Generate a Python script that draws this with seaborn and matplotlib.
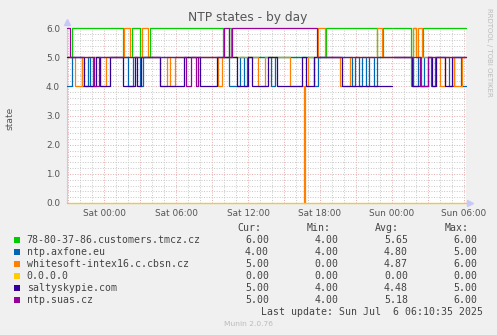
import numpy as np
import pandas as pd
import matplotlib
matplotlib.use("Agg")
import matplotlib.pyplot as plt
from matplotlib.patches import Rectangle
from matplotlib.ticker import FixedLocator, MultipleLocator, FixedFormatter
import seaborn as sns

# ---------------- data (hours relative to Sat 00:00) ----------------
T_START, T_END = -3.08, 30.17
GAP = (24.0, 24.08)

series_names = ["78-80-37-86.customers.tmcz.cz", "ntp.axfone.eu",
                "whitesoft-intex16.c.cbsn.cz", "0.0.0.0",
                "saltyskypie.com", "ntp.suas.cz"]
series_colors = ["#00CC00", "#0066B3", "#FF8000", "#FFCC00", "#330099", "#990099"]

green_t = [-3.08, -2.67, 1.58, 2.33, 3.0, 3.83, 9.92, 10.46, 10.58, 18.5,
           22.75, 23.25, 25.58, 25.75, 26.0, 26.58]
green_v = [5, 6, 5, 6, 5, 6, 5, 6, 5, 6, 5, 6, 4, 6, 5, 6]

blue_t = [-3.08, -2.67, -1.83, -1.33, -1.17, -0.92, 2.0, 2.42, 3.0, 3.25,
          10.42, 11.33, 11.67, 11.92, 13.92, 14.25, 17.5, 17.83, 20.67, 20.92,
          21.25, 21.5, 21.83, 22.08, 22.5, 22.75, 25.75, 26.17, 26.42, 26.67,
          27.25, 27.58, 28.75, 29.17, 29.75]
blue_v = [4, 5, 4, 5, 4, 5, 4, 5, 4, 5,
          4, 5, 4, 5, 4, 5, 4, 5, 4, 5,
          4, 5, 4, 5, 4, 5, 4, 5, 4, 5,
          4, 5, 4, 5, 4]

orange_t = [-3.08, -2.42, -1.83, -0.33, 0.17, 1.67, 2.17, 3.17, 3.67, 4.67,
            5.25, 5.5, 5.92, 9.5, 9.83, 12.83, 13.42, 15.5, 16.67, 16.75,
            17.0, 17.83, 18.42, 19.67, 20.5, 22.75, 23.17, 25.75, 26.0, 26.17,
            26.5, 28.0, 28.42, 29.17, 29.83]
orange_v = [5, 4, 5, 4, 5, 6, 5, 6, 5, 4,
            5, 4, 5, 4, 5, 4, 5, 4, 0, 4,
            5, 6, 5, 4, 5, 6, 5, 6, 5, 6,
            5, 4, 5, 4, 5]

yellow_t = [-3.08]
yellow_v = [0]

indigo_t = [-3.08, -1.67, -0.67, -0.33, 0.5, 1.58, 2.58, 2.75, 3.08, 4.67,
            6.67, 8.0, 9.42, 11.08, 12.0, 12.33, 13.67, 14.42, 16.5, 16.83,
            17.5, 19.83, 24.0, 25.67, 27.0, 27.33, 27.67, 28.42, 29.0]
indigo_v = [5, 4, 5, 4, 5, 4, 5, 4, 5, 4,
            5, 4, 5, 4, 5, 4, 5, 4, 5, 4,
            5, 4, 5, 4, 5, 4, 5, 4, 5]

purple_t = [-3.08, -2.83, -0.83, -0.42, 6.83, 7.25, 7.67, 7.83, 10.0, 10.42,
            10.67, 17.75, 26.33, 27.0]
purple_v = [6, 5, 4, 5, 4, 5, 4, 5, 6, 5,
            6, 5, 4, 5]

cur_vals = ["6.00", "4.00", "5.00", "0.00", "5.00", "5.00"]
min_vals = ["4.00", "4.00", "0.00", "0.00", "4.00", "4.00"]
avg_vals = ["5.65", "4.80", "4.87", "0.00", "4.48", "5.18"]
max_vals = ["6.00", "5.00", "6.00", "0.00", "5.00", "6.00"]

tick_hours = [0, 6, 12, 18, 24, 30]
tick_labels = ["Sat 00:00", "Sat 06:00", "Sat 12:00", "Sat 18:00", "Sun 00:00", "Sun 06:00"]

# ---------------- build long table ----------------
all_t = [green_t, blue_t, orange_t, yellow_t, indigo_t, purple_t]
all_v = [green_v, blue_v, orange_v, yellow_v, indigo_v, purple_v]


def value_at(ts, vs, t):
    i = np.searchsorted(np.asarray(ts), t, side="right") - 1
    return vs[max(i, 0)]


rows = []
for name, ts, vs in zip(series_names, all_t, all_v):
    for t, v in zip(ts, vs):
        if t < GAP[0]:
            rows.append((name, 0, t, v))
    rows.append((name, 0, GAP[0], value_at(ts, vs, GAP[0] - 1e-6)))
    rows.append((name, 1, GAP[1], value_at(ts, vs, GAP[1])))
    for t, v in zip(ts, vs):
        if t > GAP[1]:
            rows.append((name, 1, t, v))
    rows.append((name, 1, T_END, value_at(ts, vs, T_END)))

df = pd.DataFrame(rows, columns=["series", "unit", "t", "v"])

# ---------------- figure ----------------
sns.set_style("white")
plt.rcParams["font.family"] = ["DejaVu Sans"]

W, H = 497, 335
fig = plt.figure(figsize=(W / 100, H / 100), dpi=100, facecolor="#F0F0F0")
L, R, TOP, BOT = 67, 466, 28, 203
ax = fig.add_axes([L / W, 1 - BOT / H, (R - L) / W, (BOT - TOP) / H])
ax.set_facecolor("white")

sns.lineplot(data=df, x="t", y="v", hue="series", units="unit", estimator=None,
             sort=False, hue_order=series_names,
             palette=dict(zip(series_names, series_colors)),
             drawstyle="steps-post", linewidth=0.9, legend=False, ax=ax,
             clip_on=False, zorder=3)

ax.set_xlim(T_START, T_END)
ax.set_ylim(0, 6)

ax.yaxis.set_major_locator(MultipleLocator(1))
ax.yaxis.set_minor_locator(MultipleLocator(0.2))
ax.set_yticklabels([f"{v:.1f}" for v in ax.get_yticks()])
major_x = [h for h in range(-3, 31, 3)]
ax.xaxis.set_major_locator(FixedLocator(major_x))
ax.xaxis.set_major_formatter(FixedFormatter(
    [tick_labels[tick_hours.index(h)] if h in tick_hours else "" for h in major_x]))
ax.xaxis.set_minor_locator(FixedLocator(list(range(-3, 31))))

ax.grid(which="minor", color="#C8C8C8", linestyle=(0, (1, 1.6)), linewidth=0.7, zorder=1)
ax.grid(which="major", color="#E3ABAB", linestyle=(0, (1, 1.6)), linewidth=0.7, zorder=1)
ax.set_axisbelow(True)

ax.tick_params(axis="y", which="both", length=0, pad=5, labelsize=6.4, labelcolor="#555555")
ax.tick_params(axis="x", which="major", length=2, direction="inout", color="#E3ABAB",
               pad=3, labelsize=6.4, labelcolor="#555555")
ax.tick_params(axis="x", which="minor", length=0)

for s in ["top", "right"]:
    ax.spines[s].set_visible(False)
for s in ["left", "bottom"]:
    ax.spines[s].set_color("#C8C8F8")
    ax.spines[s].set_linewidth(0.8)

ax.set_xlabel("")
ax.set_ylabel("")

ax.plot([0], [1.035], marker="^", transform=ax.transAxes, color="#C8C8F8",
        markersize=4, clip_on=False)
ax.plot([1.01], [0], marker=">", transform=ax.transAxes, color="#C8C8F8",
        markersize=4, clip_on=False)


def fx(x):
    return x / W


def fy(y):
    return 1 - y / H


fig.text(fx(248), fy(18), "NTP states - by day", ha="center", va="center",
         fontsize=8.8, color="#555555")
fig.text(fx(10), fy(118), "state", ha="center", va="center", rotation=90,
         fontsize=6.6, color="#555555")
fig.text(fx(489), fy(52), "RRDTOOL / TOBI OETIKER", ha="center", va="center",
         rotation=270, fontsize=5.0, color="#BBBBBB")

mono = "DejaVu Sans Mono"
lfs = 7.1
tcol = "#444444"
col_head_x = [261.7, 331, 399, 469]
col_val_x = [269, 338.7, 408, 477.3]
for x, h in zip(col_head_x, ["Cur:", "Min:", "Avg:", "Max:"]):
    fig.text(fx(x), fy(227.7), h, ha="right", va="center", family=mono, fontsize=lfs, color=tcol)

row_y = [240, 252, 263.7, 275.7, 287.7, 299.7]
for i, name in enumerate(series_names):
    y = row_y[i]
    fig.patches.append(Rectangle((fx(14), fy(y + 3)), 6 / W, 6 / H,
                                 transform=fig.transFigure, facecolor=series_colors[i],
                                 edgecolor="none"))
    fig.text(fx(26.7), fy(y), name, ha="left", va="center", family=mono,
             fontsize=lfs, color=tcol)
    for x, vals in zip(col_val_x, [cur_vals, min_vals, avg_vals, max_vals]):
        fig.text(fx(x), fy(y), vals[i], ha="right", va="center", family=mono,
                 fontsize=lfs, color=tcol)

fig.text(fx(482.7), fy(311.7), "Last update: Sun Jul  6 06:10:35 2025", ha="right",
         va="center", family=mono, fontsize=lfs, color=tcol)
fig.text(fx(248), fy(324.3), "Munin 2.0.76", ha="center", va="center",
         fontsize=5.4, color="#BBBBBB")

fig.savefig("out.png", dpi=100, facecolor=fig.get_facecolor())
